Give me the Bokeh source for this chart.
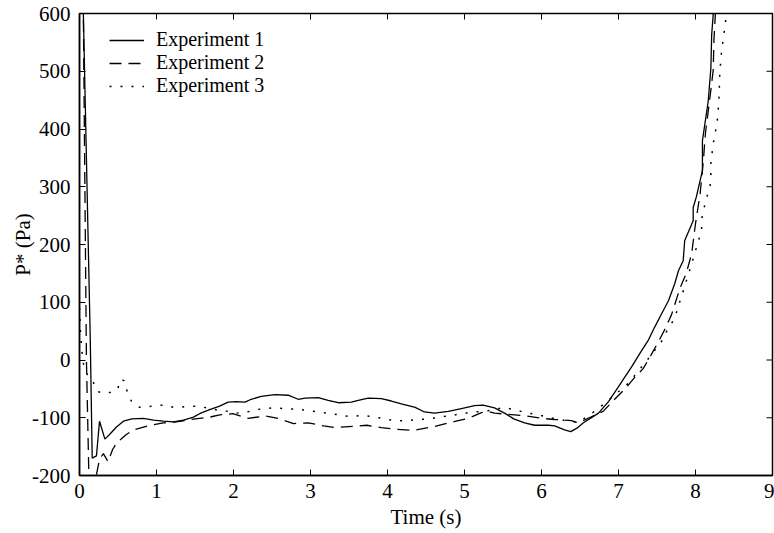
from bokeh.plotting import figure
from bokeh.models import Range1d, Legend, LegendItem, FixedTicker
from bokeh.embed import file_html
from bokeh.resources import INLINE

# ---------------- data ----------------
x_ticks = [0, 1, 2, 3, 4, 5, 6, 7, 8, 9]
y_ticks = [-200, -100, 0, 100, 200, 300, 400, 500, 600]
y_tick_labels = {-200: "-200", -100: "-100", 0: "0", 100: "100", 200: "200",
                 300: "300", 400: "400", 500: "500", 600: "600"}

t1 = [0.0, 0.05, 0.14, 0.165, 0.22, 0.26, 0.33, 0.39, 0.48, 0.57, 0.68, 0.83, 0.96, 1.09,
      1.22, 1.35, 1.48, 1.56, 1.69, 1.82, 1.93, 2.04, 2.15, 2.23, 2.36, 2.54, 2.71, 2.84,
      2.93, 3.10, 3.23, 3.36, 3.53, 3.62, 3.75, 3.92, 4.05, 4.18, 4.36, 4.48, 4.61, 4.79,
      4.96, 5.13, 5.24, 5.39, 5.52, 5.64, 5.78, 5.91, 6.09, 6.17, 6.30, 6.38, 6.46, 6.54,
      6.74, 6.87, 6.97, 7.06, 7.17, 7.28, 7.39, 7.47, 7.56, 7.65, 7.73, 7.78, 7.84, 7.86,
      7.97, 7.97, 8.01, 8.09, 8.09, 8.165, 8.20, 8.21, 8.23, 8.25]
p1 = [720, 600, 34, -170, -166, -106, -137, -129, -116, -106, -102, -101, -104, -106,
      -107, -104, -99, -93, -86, -80, -73, -72, -73, -68, -63, -60, -61, -68,
      -66, -65, -70, -74, -73, -70, -66, -67, -71, -76, -82, -90, -92, -89,
      -84, -79, -78, -83, -92, -102, -109, -113, -113, -114, -121, -124, -118, -109,
      -92, -72, -52, -34, -12, 12, 35, 57, 80, 103, 132, 155, 172, 207,
      241, 264, 282, 328, 380, 448, 506, 563, 598, 640]

t2 = [0.0, 0.05, 0.09, 0.12, 0.17, 0.21, 0.26, 0.31, 0.37, 0.43, 0.48, 0.60, 0.70, 0.89,
      1.09, 1.26, 1.45, 1.69, 1.82, 1.99, 2.19, 2.41, 2.58, 2.78, 2.97, 3.17, 3.32, 3.56,
      3.73, 3.92, 4.12, 4.33, 4.61, 4.89, 5.05, 5.22, 5.31, 5.39, 5.65, 5.81, 6.00, 6.17,
      6.39, 6.48, 6.62, 6.80, 6.95, 7.10, 7.21, 7.32, 7.42, 7.52, 7.61, 7.69, 7.80, 7.88,
      7.95, 8.00, 8.06, 8.10, 8.13, 8.18, 8.23, 8.24, 8.27]
p2 = [720, 600, 0, -190, -215, -205, -172, -162, -176, -155, -144, -130, -121, -114,
      -109, -107, -103, -99, -95, -93, -101, -97, -101, -110, -109, -114, -117, -115,
      -113, -117, -120, -122, -115, -106, -101, -91, -89, -92, -95, -97, -101, -103,
      -105, -109, -100, -89, -68, -48, -30, -15, 8, 32, 55, 79, 125, 150,
      184, 236, 288, 342, 394, 446, 502, 555, 630]

t3 = [0.0, 0.01, 0.03, 0.05, 0.10, 0.17, 0.24, 0.35, 0.49, 0.54, 0.58, 0.62, 0.68, 0.78,
      0.94, 1.09, 1.22, 1.37, 1.51, 1.67, 1.80, 1.93, 2.06, 2.21, 2.35, 2.50, 2.65, 2.80,
      2.95, 3.09, 3.23, 3.37, 3.51, 3.66, 3.81, 3.96, 4.10, 4.25, 4.39, 4.54, 4.68, 4.83,
      4.97, 5.11, 5.24, 5.39, 5.50, 5.65, 5.81, 5.93, 6.09, 6.22, 6.37, 6.48, 6.70, 6.93,
      7.13, 7.41, 7.58, 7.64, 7.73, 7.77, 7.83, 7.90, 7.99, 8.03, 8.08, 8.08, 8.11, 8.15,
      8.19, 8.20, 8.20, 8.22, 8.24, 8.27, 8.29, 8.30, 8.31, 8.31, 8.32, 8.33, 8.35, 8.37,
      8.39, 8.41]
p3 = [90, 55, 17, -6, -25, -36, -55, -58, -52, -33, -36, -55, -73, -82,
      -80, -78, -82, -81, -80, -83, -87, -89, -92, -89, -85, -83, -84, -85,
      -87, -90, -92, -95, -98, -96, -98, -102, -105, -105, -103, -102, -99, -96,
      -93, -90, -89, -86, -82, -86, -92, -94, -99, -103, -106, -108, -88, -63,
      -40, 6, 36, 54, 72, 90, 115, 145, 184, 204, 223, 244, 263, 283,
      303, 323, 343, 363, 383, 403, 422, 444, 464, 484, 503, 524, 546, 565,
      585, 620]

series_names = ["Experiment 1", "Experiment 2", "Experiment 3"]

# ---------------- figure ----------------
FONT = "Times"
X0, X1, Y0, Y1 = 0, 9, -200, 600
TICK_PX = 6

p = figure(width=774, height=533, x_range=Range1d(X0, X1), y_range=Range1d(Y0, Y1),
           output_backend="svg", toolbar_location=None,
           min_border_left=79, min_border_right=2, min_border_top=13, min_border_bottom=58)
p.xgrid.visible = False
p.ygrid.visible = False
p.outline_line_color = "black"
p.outline_line_width = 1.5
p.background_fill_color = "white"
p.border_fill_color = "white"

for ax, ticks in ((p.xaxis[0], x_ticks), (p.yaxis[0], y_ticks)):
    ax.ticker = FixedTicker(ticks=ticks)
    ax.major_tick_in = TICK_PX
    ax.major_tick_out = 0
    ax.minor_tick_in = 0
    ax.minor_tick_out = 0
    ax.axis_line_color = "black"
    ax.axis_line_width = 1.5
    ax.major_tick_line_color = "black"
    ax.major_label_text_font = FONT
    ax.major_label_text_font_size = "21px"
    ax.major_label_text_color = "black"
    ax.axis_label_text_font = FONT
    ax.axis_label_text_font_size = "21px"
    ax.axis_label_text_font_style = "normal"
    ax.axis_label_text_color = "#000000"

p.yaxis[0].major_label_overrides = y_tick_labels
p.xaxis[0].major_label_standoff = 8
p.yaxis[0].major_label_standoff = 9
p.xaxis[0].axis_label = "Time (s)"
p.xaxis[0].axis_label_standoff = 4
p.yaxis[0].axis_label = "P* (Pa)"
p.yaxis[0].axis_label_standoff = -6

# inward tick marks on the top and right edges of the box
frame_w = 774 - 79 - 2
frame_h = 533 - 13 - 58
dy = (Y1 - Y0) * TICK_PX / frame_h
dx = (X1 - X0) * TICK_PX / frame_w
p.segment(x0=x_ticks, y0=[Y1] * len(x_ticks), x1=x_ticks, y1=[Y1 - dy] * len(x_ticks),
          line_color="black", line_width=1)
p.segment(x0=[X1] * len(y_ticks), y0=y_ticks, x1=[X1 - dx] * len(y_ticks), y1=y_ticks,
          line_color="black", line_width=1)

r1 = p.line(t1, p1, line_color="black", line_width=1.3)
r2 = p.line(t2, p2, line_color="black", line_width=1.3, line_dash="12 7")
r3 = p.line(t3, p3, line_color="black", line_width=1.5, line_dash="2 9")

legend = Legend(items=[LegendItem(label=series_names[0], renderers=[r1]),
                       LegendItem(label=series_names[1], renderers=[r2]),
                       LegendItem(label=series_names[2], renderers=[r3])],
                location=(30, 378))
legend.border_line_color = None
legend.background_fill_alpha = 0
legend.padding = 0
legend.margin = 0
legend.spacing = 0
legend.glyph_width = 35
legend.glyph_height = 20
legend.label_height = 20
legend.label_standoff = 12
legend.label_text_font = FONT
legend.label_text_font_size = "20px"
legend.label_text_line_height = 1.0
legend.label_text_color = "black"
p.add_layout(legend)

open("out.html", "w").write(file_html(p, INLINE))
